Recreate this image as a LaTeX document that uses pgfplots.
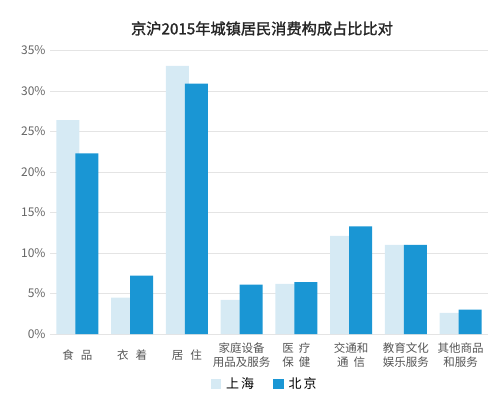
\documentclass[border=0pt]{standalone}
\usepackage{pgfplots}
\pgfplotsset{compat=1.18}
\usepackage{fontspec}
\setmainfont{Noto Sans CJK SC}
\newfontfamily\titlefont[FakeBold=1.6]{Noto Sans CJK SC}
\usetikzlibrary{calc}
\definecolor{shc}{RGB}{214,234,244}
\definecolor{bjc}{RGB}{26,150,212}
\definecolor{gridc}{RGB}{228,228,228}
\definecolor{tickc}{RGB}{100,100,100}
\begin{document}
\begin{tikzpicture}
\begin{axis}[
  name=ax,
  scale only axis,
  width=438bp, height=283.5bp,
  ymin=0, ymax=35,
  xmin=-0.5, xmax=7.5,
  ytick={0,5,10,15,20,25,30,35},
  yticklabel={\pgfmathprintnumber{\tick}\%},
  /pgf/number format/assume math mode=true,
  ymajorgrids,
  grid style={gridc, line width=0.8pt},
  axis line style={draw=none},
  axis x line*=bottom,
  x axis line style={draw=gridc, line width=0.8pt},
  major tick length=0pt,
  xtick={0,1,2,3,4,5,6,7},
  xticklabels={食\hspace{7bp}品, 衣\hspace{7bp}着, 居\hspace{7bp}住, 家庭设备\\用品及服务, 医\hspace{5bp}疗\\保\hspace{5bp}健, 交通和\\通\hspace{5bp}信, 教育文化\\娱乐服务, 其他商品\\和服务},
  xticklabel style={align=center, anchor=center, yshift=-21bp, font=\fontsize{11.5bp}{14bp}\selectfont, text=tickc!85!black},
  yticklabel style={font=\fontsize{12bp}{14bp}\selectfont, text=tickc, xshift=-1bp},
  legend style={at={(0.49,-0.14)}, anchor=north, draw=none, legend columns=2,
    font=\fontsize{13bp}{15bp}\selectfont,
    /tikz/every odd column/.append style={column sep=3bp},
    /tikz/every even column/.append style={column sep=17bp}},
  legend image code/.code={\fill[#1] (0bp,-5bp) rectangle (10.5bp,5.5bp);},
  clip=false,
]
\addplot[ybar, bar width=23bp, bar shift=-9.5bp, fill=shc, draw=none] coordinates {
 (0,26.4) (1,4.5) (2,33.1) (3,4.2) (4,6.2) (5,12.1) (6,11.0) (7,2.6)};
\addlegendentry{上\hspace{2bp}海}
\addplot[ybar, bar width=23bp, bar shift=9.5bp, fill=bjc, draw=none] coordinates {
 (0,22.3) (1,7.2) (2,30.9) (3,6.1) (4,6.4) (5,13.3) (6,11.0) (7,3.0)};
\addlegendentry{北\hspace{2bp}京}
\end{axis}
\node[font=\titlefont\fontsize{15.2bp}{17bp}\selectfont, text=black!85] at ($(ax.north west)+(212bp,22bp)$) {京沪2015年城镇居民消费构成占比比对};
\path[use as bounding box] ($(ax.south west)+(-50bp,-61bp)$) rectangle ++(502bp,395bp);
\end{tikzpicture}
\end{document}
